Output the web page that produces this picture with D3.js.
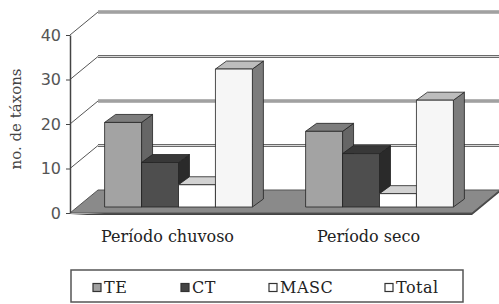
<!DOCTYPE html>
<html>
<head>
<meta charset="utf-8">
<script src="https://cdn.jsdelivr.net/npm/d3@7"></script>
<style>
  body { margin: 0; background: #fff; }
  svg { display: block; }
  .serif { font-family: "DejaVu Serif", serif; }
  .sans { font-family: "DejaVu Sans", Verdana, sans-serif; }
</style>
</head>
<body>
<div id="canvas"></div>
<script>
const categories = ["Período chuvoso", "Período seco"];
const series = ["TE", "CT", "MASC", "Total"];
const TE = [19, 17];
const CT = [10, 12];
const MASC = [5, 3];
const Total = [31, 24];
const yTicks = [0, 10, 20, 30, 40];

const values = { TE: TE, CT: CT, MASC: MASC, Total: Total };

// colours: front, top, side
const colors = {
  TE: ["#a3a3a3", "#7d7d7d", "#666"],
  CT: ["#4e4e4e", "#383838", "#2a2a2a"],
  MASC: ["#ffffff", "#d2d2d2", "#999"],
  Total: ["#f6f6f6", "#bdbdbd", "#7c7c7c"],
};
const legendFill = { TE: "#a0a0a0", CT: "#444", MASC: "#fff", Total: "#fff" };
const legendX = { TE: 93, CT: 181, MASC: 269, Total: 385 };

const width = 499, height = 304;
const x0 = 70, floorW = 402;
const depth = { dx: 28, dy: -23 };      // wall depth
const barShift = { dx: 8, dy: -6 };     // bar front inside the floor
const barDepth = { dx: 11, dy: -8 };    // bar thickness

const svg = d3.select("#canvas").append("svg")
  .attr("width", width).attr("height", height);

const y = d3.scaleLinear().domain([0, 40]).range([213, 35]);

const xGroup = d3.scaleBand().domain(categories).range([x0, x0 + floorW]);
const xSeries = d3.scaleBand().domain(series)
  .range([0, xGroup.bandwidth()]).paddingOuter(0.72);

// back wall grid lines
const grid = svg.append("g");
yTicks.filter((t) => t > 0).forEach((t) => {
  const yy = y(t);
  grid.append("line")
    .attr("x1", x0).attr("y1", yy)
    .attr("x2", x0 + depth.dx).attr("y2", yy + depth.dy)
    .attr("stroke", "#555").attr("stroke-width", 1);
  grid.append("line")
    .attr("x1", x0 + depth.dx).attr("y1", yy + depth.dy)
    .attr("x2", x0 + depth.dx + floorW + 10).attr("y2", yy + depth.dy)
    .attr("stroke", "#6a6a6a").attr("stroke-width", 3);
  grid.append("line")
    .attr("x1", x0 + depth.dx).attr("y1", yy + depth.dy)
    .attr("x2", x0 + depth.dx + floorW + 10).attr("y2", yy + depth.dy)
    .attr("stroke", "#d8d8d8").attr("stroke-width", 1);
});

// floor
const y0 = y(0);
svg.append("path")
  .attr("d", `M${x0},${y0 + 2} L${x0 + floorW},${y0 + 2} L${x0 + floorW + depth.dx},${y0 + depth.dy + 2} L${x0 + floorW + depth.dx},${y0 + depth.dy} Z`)
  .attr("fill", "#444");
svg.append("path")
  .attr("d", `M${x0},${y0} L${x0 + floorW},${y0} L${x0 + floorW + depth.dx},${y0 + depth.dy} L${x0 + depth.dx},${y0 + depth.dy} Z`)
  .attr("fill", "#8a8a8a").attr("stroke", "#555").attr("stroke-width", 1);

// bars
const bars = svg.append("g").attr("stroke", "#222").attr("stroke-width", 0.8)
  .attr("stroke-linejoin", "round");
categories.forEach((c, i) => {
  series.forEach((s) => {
    const v = values[s][i];
    const xl = xGroup(c) + xSeries(s) + barShift.dx;
    const xr = xl + xSeries.bandwidth();
    const yb = y(0) + barShift.dy;
    const yt = y(v) + barShift.dy;
    const bx = barDepth.dx, by = barDepth.dy;
    // side
    bars.append("path")
      .attr("d", `M${xr},${yb} L${xr + bx},${yb + by} L${xr + bx},${yt + by} L${xr},${yt} Z`)
      .attr("fill", colors[s][2]);
    // top
    bars.append("path")
      .attr("d", `M${xl},${yt} L${xl + bx},${yt + by} L${xr + bx},${yt + by} L${xr},${yt} Z`)
      .attr("fill", colors[s][1]);
    // front
    bars.append("rect")
      .attr("x", xl).attr("y", yt)
      .attr("width", xr - xl).attr("height", yb - yt)
      .attr("fill", colors[s][0]);
  });
});

// y axis
const yAxis = svg.append("g")
  .attr("transform", `translate(${x0},0)`)
  .call(d3.axisLeft(y).tickValues(yTicks).tickSize(4).tickSizeOuter(0).tickPadding(5));
yAxis.attr("font-family", null).attr("font-size", null);
yAxis.select(".domain").attr("stroke", "#444").attr("stroke-width", 1.5);
yAxis.selectAll(".tick line").attr("stroke", "#444");
yAxis.selectAll("text")
  .attr("class", "sans")
  .attr("font-size", 16).attr("fill", "#555");

svg.append("text")
  .attr("class", "serif")
  .attr("transform", "translate(21,119) rotate(-90)")
  .attr("text-anchor", "middle")
  .attr("font-size", 15).attr("fill", "#444")
  .text("no. de táxons");

// category labels
svg.append("g").selectAll("text").data(categories).join("text")
  .attr("class", "serif")
  .attr("x", (d) => xGroup(d) + xGroup.bandwidth() / 2 - 3)
  .attr("y", 242)
  .attr("text-anchor", "middle")
  .attr("font-size", 16).attr("fill", "#222")
  .text((d) => d);

// legend
const legend = svg.append("g");
legend.append("rect")
  .attr("x", 71).attr("y", 270).attr("width", 392).attr("height", 32)
  .attr("fill", "#fff").attr("stroke", "#555").attr("stroke-width", 1.5);
series.forEach((s) => {
  legend.append("rect")
    .attr("x", legendX[s]).attr("y", 283.5).attr("width", 8).attr("height", 8)
    .attr("fill", legendFill[s]).attr("stroke", "#333").attr("stroke-width", 1.2);
  legend.append("text")
    .attr("class", "serif")
    .attr("x", legendX[s] + 11).attr("y", 293)
    .attr("font-size", 16).attr("letter-spacing", 0.5).attr("fill", "#222")
    .text(s);
});
</script>
</body>
</html>
